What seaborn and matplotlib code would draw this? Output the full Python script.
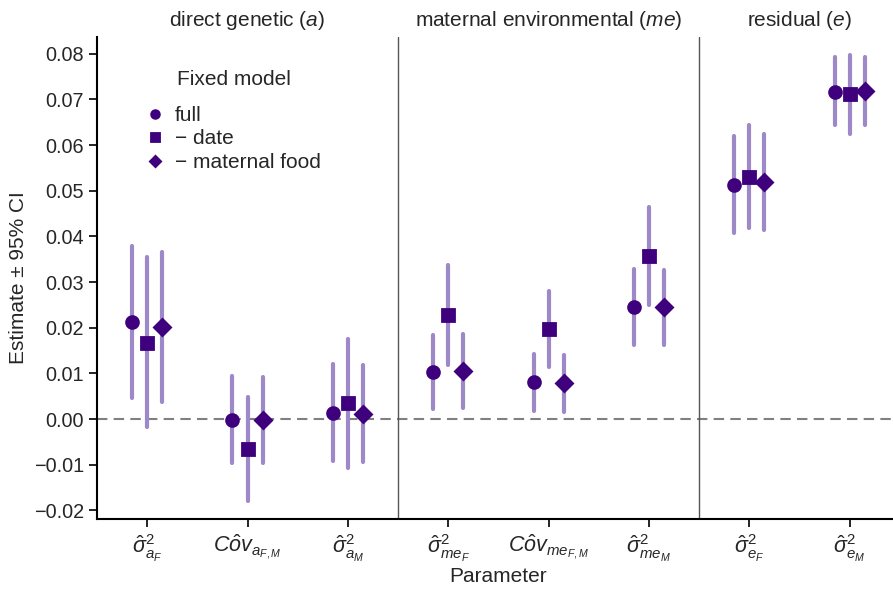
import numpy as np
import pandas as pd
import matplotlib
matplotlib.use("Agg")
import matplotlib.pyplot as plt
import matplotlib.transforms as mtransforms
import seaborn as sns

# parameters (x axis), in plotting order
params = [
    r"$\hat{\sigma}^2_{a_F}$",
    r"$C\hat{o}v_{a_{F,M}}$",
    r"$\hat{\sigma}^2_{a_M}$",
    r"$\hat{\sigma}^2_{me_F}$",
    r"$C\hat{o}v_{me_{F,M}}$",
    r"$\hat{\sigma}^2_{me_M}$",
    r"$\hat{\sigma}^2_{e_F}$",
    r"$\hat{\sigma}^2_{e_M}$",
]
models = ["full", "\u2212 date", "\u2212 maternal food"]

# estimates and 95% CI, one list per fixed model
est_full = [0.0213, -0.0002, 0.0014, 0.0104, 0.0080, 0.0245, 0.0513, 0.0717]
lo_full = [0.0045, -0.0097, -0.0092, 0.0023, 0.0018, 0.0162, 0.0407, 0.0644]
hi_full = [0.0380, 0.0094, 0.0121, 0.0184, 0.0142, 0.0328, 0.0619, 0.0793]

est_date = [0.0167, -0.0066, 0.0034, 0.0228, 0.0197, 0.0357, 0.0531, 0.0712]
lo_date = [-0.0017, -0.0179, -0.0107, 0.0118, 0.0115, 0.0250, 0.0418, 0.0625]
hi_date = [0.0354, 0.0049, 0.0175, 0.0338, 0.0281, 0.0464, 0.0644, 0.0798]

est_food = [0.0201, -0.0002, 0.0012, 0.0106, 0.0078, 0.0245, 0.0519, 0.0719]
lo_food = [0.0038, -0.0097, -0.0094, 0.0025, 0.0016, 0.0162, 0.0414, 0.0644]
hi_food = [0.0365, 0.0091, 0.0118, 0.0186, 0.0140, 0.0327, 0.0624, 0.0793]

groups = ["direct genetic ($a$)", "maternal environmental ($me$)", "residual ($e$)"]
group_centers = [1, 4, 6.5]
group_breaks = [2.5, 5.5]

DARK = "#3f007d"
LIGHT = "#9d88c8"
FS = 15

# long table: each (param, model) has lo/est/hi rows; median -> estimate, min/max -> CI
rows = []
for model, est, lo, hi in [
    (models[0], est_full, lo_full, hi_full),
    (models[1], est_date, lo_date, hi_date),
    (models[2], est_food, lo_food, hi_food),
]:
    for p, e, l, h in zip(params, est, lo, hi):
        for v in (l, e, h):
            rows.append({"Parameter": p, "model": model, "value": v})
df = pd.DataFrame(rows)

sns.set_style("ticks")
plt.rcParams["font.family"] = ["Liberation Sans", "DejaVu Sans"]
plt.rcParams["mathtext.fontset"] = "custom"
plt.rcParams["mathtext.rm"] = "Liberation Sans"
plt.rcParams["mathtext.it"] = "Liberation Sans:italic"

fig = plt.figure(figsize=(8.93, 5.97), dpi=100)
ax = fig.add_axes([0.1086, 0.1307, 0.899, 0.8074])

ax.axhline(0, color="#808080", linestyle="--", linewidth=1.5, dashes=(5, 3), zorder=0)
for b in group_breaks:
    ax.axvline(b, color="#555555", linewidth=1, zorder=0)

sns.pointplot(
    data=df, x="Parameter", y="value", hue="model",
    estimator=np.median, errorbar=lambda v: (v.min(), v.max()),
    dodge=0.3, markers=["o", "s", "D"], linestyles="none",
    palette=[DARK] * 3, markersize=8.5,
    err_kws={"color": LIGHT, "linewidth": 3, "zorder": 1},
    ax=ax, zorder=3,
)

ax.set_xlim(-0.5, 7.5)
ax.set_ylim(-0.0219, 0.0837)
ax.set_yticks(np.arange(-0.02, 0.081, 0.01))
ax.yaxis.set_major_formatter(matplotlib.ticker.FuncFormatter(
    lambda v, _: ("%.2f" % (0 if abs(v) < 1e-9 else v)).replace("-", "\u2212")))
ax.tick_params(axis="y", labelsize=14.3, length=6, width=1.2, color="black")
ax.tick_params(axis="x", labelsize=15.5, length=6, width=1.2, color="black", pad=4)

sns.despine(ax=ax)
for s in ("left", "bottom"):
    ax.spines[s].set_linewidth(1.5)
    ax.spines[s].set_color("black")

ax.set_xlabel("Parameter", fontsize=FS, labelpad=2)
ax.set_ylabel("Estimate \u00b1 95% CI", fontsize=FS)
ax.yaxis.set_label_coords(-0.086, 0.5)

trans = mtransforms.blended_transform_factory(ax.transData, ax.transAxes)
for g, c in zip(groups, group_centers):
    ax.text(c, 1.035, g, transform=trans, ha="center", va="center", fontsize=FS)

handles, labels = ax.get_legend_handles_labels()
ax.legend(
    handles, labels, frameon=False,
    loc="upper left", bbox_to_anchor=(0.062, 0.857),
    fontsize=FS, handlelength=0.8, markerscale=0.65,
    handletextpad=0.56, labelspacing=0.22, borderpad=0, borderaxespad=0,
)
ax.text(0.171, 0.911, "Fixed model", transform=ax.transAxes,
        ha="center", va="center", fontsize=FS)

fig.savefig("out.png", dpi=100)
